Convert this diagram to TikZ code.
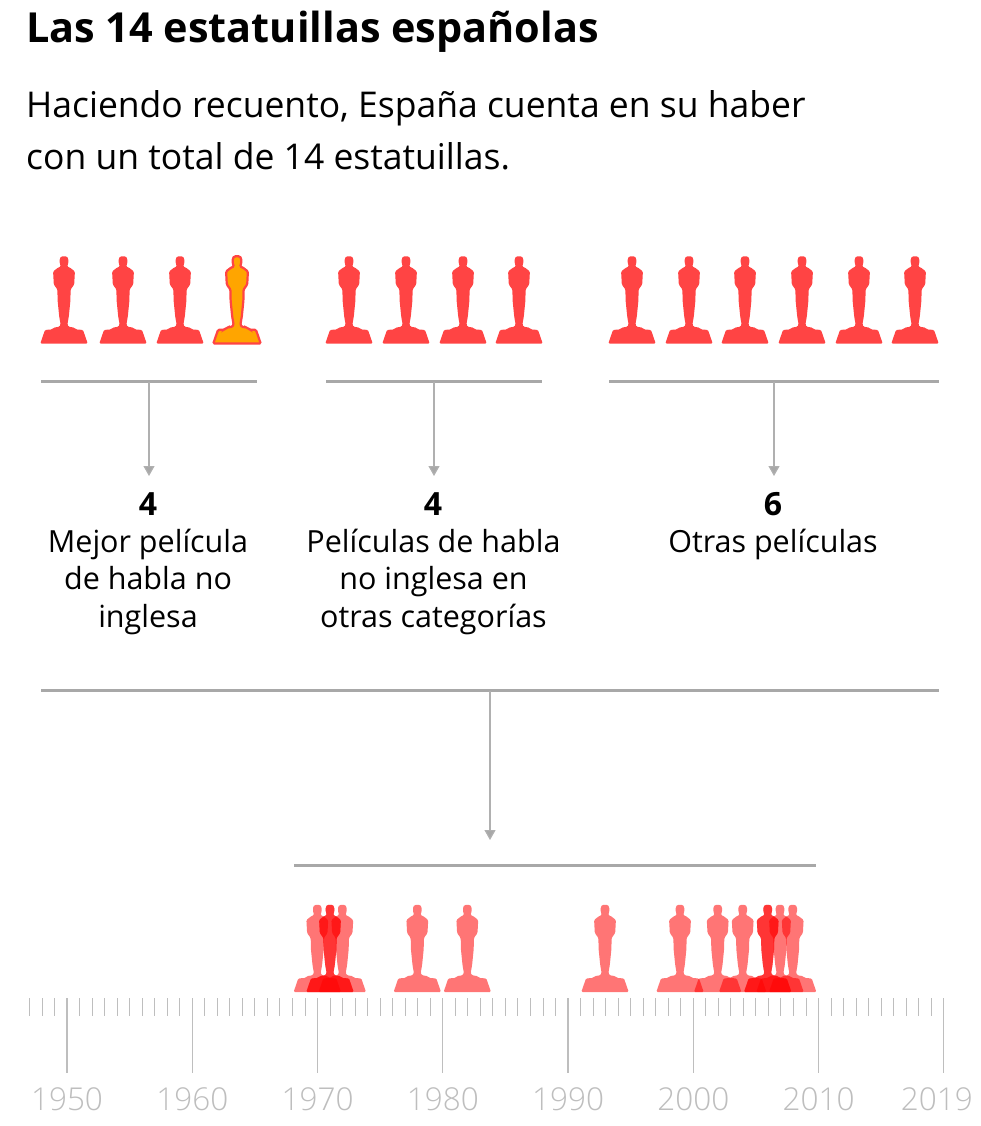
\documentclass[tikz,border=0pt]{standalone}
\usepackage{fontspec}
\setmainfont{Open Sans}
\newfontfamily\ligera{Open Sans Light}
\definecolor{rojo}{HTML}{FF4444}
\definecolor{oro}{HTML}{FFA500}
\definecolor{barra}{HTML}{A8A8A8}
\definecolor{flecha}{HTML}{B0B0B0}
\definecolor{regla}{HTML}{BEBEBE}
\usetikzlibrary{arrows.meta}
\tikzset{
    pics/estatuilla/.style={code={
        \path[pic actions,rounded corners=1.2pt]
            (-23.7,0)--(-19,-13.6)--(-12,-14)--(-10.5,-15.8)--(-4.5,-16.8)--(-3.4,-19)--(-4.8,-27)--(-6.4,-43)--(-6.6,-54)--(-10.2,-59)--(-10.9,-72)--(-5.8,-76)--(-3,-77)
            --(-4.3,-80)--(-4.3,-85)--(-2.6,-87.2)--(2.6,-87.2)--(4.3,-85)--(4.3,-80)--(3,-77)
            --(5.8,-76)--(10.9,-72)--(10.2,-59)--(6.6,-54)--(6.4,-43)--(4.8,-27)--(3.4,-19)--(4.5,-16.8)--(10.5,-15.8)--(12,-14)--(19,-13.6)--(23.7,0)--cycle;
    }},
    figura/.style={fill=rojo},
    ganada/.style={fill=oro,draw=rojo,line width=2.2pt},
    tenue/.style={fill=red,fill opacity=.54},
    barra/.style={draw=barra,line width=2.5pt},
    flecha/.style={draw=flecha,line width=1.2pt,-{Triangle[width=11pt,length=10pt,fill=barra]}},
    etiqueta/.style={align=center,font=\fontsize{30.5}{37.5}\selectfont,inner sep=0pt,anchor=base},
    cifra/.style={font=\fontsize{32}{38}\selectfont\bfseries,inner sep=0pt,anchor=base},
    anio/.style={font=\fontsize{31.5}{36}\selectfont\ligera,text=regla,inner sep=0pt,anchor=base},
}
\begin{document}
\begin{tikzpicture}[x=1pt,y=-1pt]
    \useasboundingbox (0,0) rectangle (980,1126);
    \fill[white] (0,0) rectangle (980,1126);

    \node[inner sep=0pt,anchor=base west,font=\fontsize{41.4}{44}\selectfont\bfseries] (titulo) at (26,43) {Las 14 estatuillas españolas};
    \node[inner sep=0pt,anchor=base west,font=\fontsize{35.5}{44}\selectfont] (linea1) at (26,118) {Haciendo recuento, España cuenta en su haber};
    \node[inner sep=0pt,anchor=base west,font=\fontsize{35.5}{44}\selectfont] (linea2) at (26,170) {con un total de 14 estatuillas.};

    % fila de arriba
    \foreach \x in {64,123,180,349,406,463,519,632,689,745,802,859,915}
        \pic[figura] at (\x,343.5) {estatuilla};
    \pic[ganada] at (237,343.5) {estatuilla};

    \coordinate (a1) at (41,381.7);
    \coordinate (a2) at (257,381.7);
    \coordinate (b1) at (326,381.7);
    \coordinate (b2) at (542,381.7);
    \coordinate (c1) at (609,381.7);
    \coordinate (c2) at (939,381.7);
    \draw[barra] (a1)--(a2);
    \draw[barra] (b1)--(b2);
    \draw[barra] (c1)--(c2);

    \coordinate (pa) at (149,382);
    \coordinate (pb) at (434,382);
    \coordinate (pc) at (774,382);
    \coordinate (fa) at (149,476);
    \coordinate (fb) at (434,476);
    \coordinate (fc) at (774,476);
    \draw[flecha] (pa)--(fa);
    \draw[flecha] (pb)--(fb);
    \draw[flecha] (pc)--(fc);

    \node[cifra] (na) at (148,515) {4};
    \node[cifra] (nb) at (433,515) {4};
    \node[cifra] (nc) at (773,515) {6};
    \node[etiqueta,anchor=north] (ta) at (148,528.5) {Mejor película\\de habla no\\inglesa};
    \node[etiqueta,anchor=north] (tb) at (433.5,528.5) {Películas de habla\\no inglesa en\\otras categorías};
    \node[etiqueta,anchor=north] (tc) at (773,528.5) {Otras películas};

    \coordinate (d1) at (41,690.7);
    \coordinate (d2) at (939,690.7);
    \draw[barra] (d1)--(d2);
    \coordinate (pd) at (490,691);
    \coordinate (fd) at (490,840);
    \draw[flecha] (pd)--(fd);
    \coordinate (e1) at (294,865.5);
    \coordinate (e2) at (816,865.5);
    \draw[barra] (e1)--(e2);

    % las 14 sobre la regla
    \foreach \x in {317.3,330,330,342.3,417.3,467.3,605,680,717.7,742.7,767.7,767.7,780,792.7}
        \pic[tenue] at (\x,992) {estatuilla};

    % regla
    \foreach \i in {-3,...,69}
        \draw[regla,line width=.9pt] ({67+12.525*\i},998)--({67+12.525*\i},1016);
    \foreach \i in {0,...,7}
        \draw[regla,line width=1.2pt] ({67+125.25*\i},998)--({67+125.25*\i},1073);
    \foreach \i/\y in {0/1950,1/1960,2/1970,3/1980,4/1990,5/2000,6/2010}
        \node[anio] (y\y) at ({67+125.25*\i},1110) {\y};
    \node[anio,anchor=base east] (y2019) at (973,1110) {2019};
\end{tikzpicture}
\end{document}
